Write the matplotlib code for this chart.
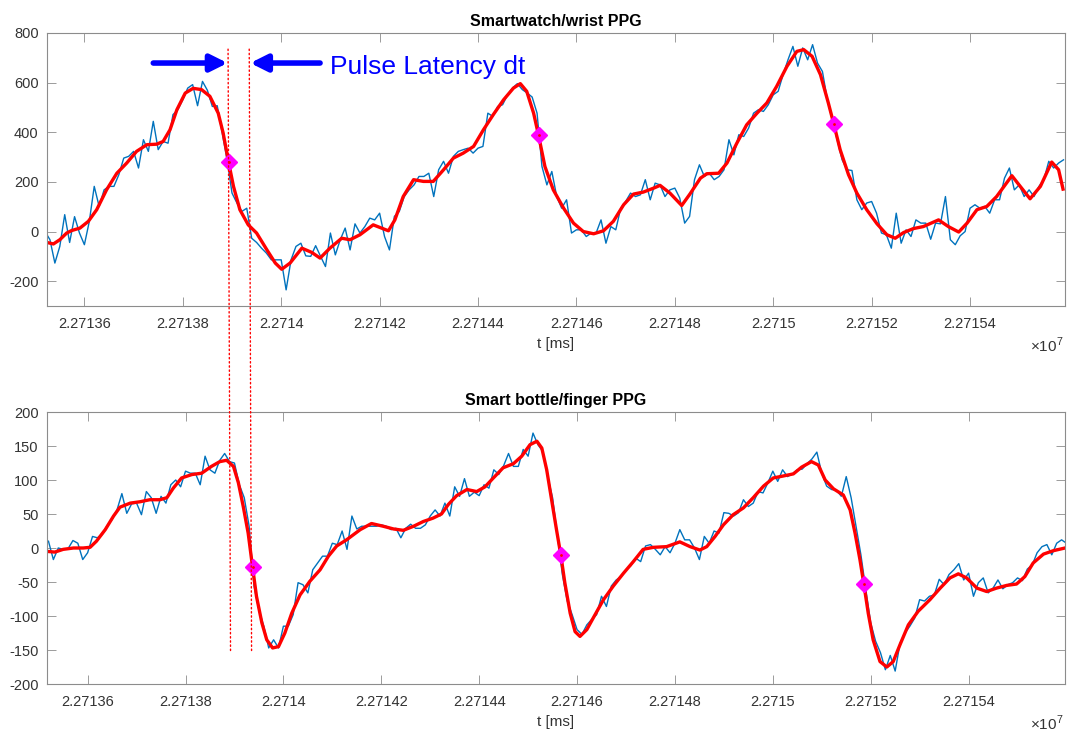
import matplotlib
matplotlib.use('Agg')
import numpy as np
import matplotlib.pyplot as plt
from matplotlib.ticker import MultipleLocator, FuncFormatter
from matplotlib.patches import ConnectionPatch

plt.rcParams['font.family'] = ['Liberation Sans', 'DejaVu Sans']
plt.rcParams['mathtext.fontset'] = 'custom'
plt.rcParams['mathtext.rm'] = 'Liberation Sans'
plt.rcParams['axes.unicode_minus'] = False

# time base [ms], raw PPG sampled every 10 ms from T0
T0 = 22713520
STEP = 10

wrist_raw = [
    0, -33, -127, -60, 68, -44, 60, -6, -53, 41,
    182, 101, 168, 182, 182, 229, 296, 303, 323, 256,
    370, 323, 444, 330, 363, 356, 471, 491, 531, 578,
    592, 507, 605, 569, 504, 507, 397, 289, 155, 115,
    81, 94, -27, -44, -67, -87, -114, -114, -114, -235,
    -114, -60, -47, -98, -100, -57, -100, -141, -6, -94,
    -33, 14, -74, 31, -6, 20, 54, 47, 74, -20,
    -74, 61, 81, 141, 168, 188, 222, 222, 235, 141,
    249, 283, 235, 303, 323, 330, 336, 316, 336, 343,
    477, 464, 504, 511, 551, 578, 596, 572, 558, 542,
    477, 262, 188, 242, 141, 94, 128, -6, 7, 7,
    -20, -6, -6, 47, -47, 20, 7, 94, 121, 155,
    141, 148, 209, 128, 195, 188, 141, 168, 175, 135,
    34, 61, 209, 269, 222, 235, 209, 222, 249, 370,
    309, 390, 383, 417, 477, 491, 484, 511, 551, 565,
    632, 692, 746, 666, 740, 692, 753, 679, 645, 531,
    450, 370, 289, 249, 246, 128, 88, 115, 121, 74,
    -6, -13, -67, 74, -47, 7, -20, 47, 34, 34,
    -31, 34, 31, 141, -33, -53, -17, 0, 94, 108,
    94, 101, 74, 128, 128, 215, 256, 168, 188, 141,
    168, 141, 182, 209, 283, 256, 276, 289,
]

finger_raw = [
    10, -17, 0, -2, -1, 11, 7, -17, -7, 17,
    15, 20, 33, 42, 56, 80, 51, 65, 66, 49,
    83, 74, 51, 76, 66, 93, 100, 90, 113, 110,
    110, 93, 135, 115, 110, 129, 139, 127, 125, 93,
    74, 32, -56, -91, -115, -147, -135, -147, -115, -115,
    -98, -51, -54, -66, -32, -22, -12, -12, 7, 5,
    25, -2, 47, 28, 32, 32, 32, 32, 34, 32,
    27, 29, 15, 29, 35, 29, 29, 34, 47, 56,
    47, 66, 47, 90, 76, 102, 76, 82, 77, 93,
    88, 115, 108, 121, 139, 120, 120, 145, 135, 169,
    152, 142, 105, 74, 17, -39, -78, -98, -120, -127,
    -113, -105, -98, -71, -86, -56, -47, -42, -32, -26,
    -15, -20, 3, 5, -2, -10, 2, -7, 7, 27,
    12, 12, 0, -17, 17, 7, 25, 22, 52, 51,
    47, 52, 71, 61, 66, 83, 81, 96, 113, 98,
    115, 105, 109, 115, 116, 124, 131, 141, 110, 91,
    86, 85, 76, 105, 74, 32, -10, -61, -110, -137,
    -154, -179, -158, -181, -140, -125, -115, -103, -76, -78,
    -71, -69, -46, -54, -39, -32, -23, -47, -37, -71,
    -51, -44, -66, -59, -47, -60, -54, -51, -44, -48,
    -31, -25, -7, 2, 5, -10, 7, 12, 7,
]

# filtered curves, ms after T0
wrist_fit_t = [
    4, 17, 30, 44, 54, 71, 88, 105, 125, 146, 166, 186, 207, 227, 240, 254,
    268, 285, 301, 318, 335, 352, 362, 373, 383, 396, 413, 430, 451, 468,
    481, 498, 522, 542, 559, 579, 603, 620, 640, 667, 698, 711, 728, 749,
    769, 789, 810, 830, 850, 871, 891, 911, 932, 952, 966, 979, 993, 1003,
    1016, 1033, 1054, 1074, 1094, 1115, 1135, 1155, 1176, 1196, 1216, 1237,
    1250, 1270, 1294, 1311, 1332, 1345, 1369, 1386, 1406, 1426, 1447, 1467,
    1487, 1508, 1528, 1542, 1559, 1576, 1592, 1603, 1616, 1633, 1650, 1670,
    1691, 1711, 1728, 1745, 1765, 1785, 1816, 1836, 1857, 1874, 1894, 1914,
    1934, 1965, 1982, 2002, 2023, 2046, 2060, 2069,
]
wrist_fit = [
    -44, -50, -33, -6, 4, 14, 41, 88, 168, 235, 276, 323, 350, 352, 363, 410,
    491, 558, 577, 572, 545, 477, 397, 280, 182, 88, 27, -6, -74, -127,
    -152, -127, -67, -84, -107, -67, -27, -33, -13, 27, 3, 47, 141, 209,
    202, 202, 249, 296, 316, 343, 410, 471, 531, 578, 596, 565, 477, 388,
    262, 168, 94, 34, 0, -9, 3, 41, 108, 151, 159, 175,
    186, 155, 105, 152, 215, 233, 235, 276, 356, 430, 477, 518,
    585, 666, 726, 733, 706, 632, 518, 434, 330, 229, 155, 88,
    31, -13, -27, -4, 12, 20, 47, 20, -2, 34, 88, 101,
    141, 225, 182, 132, 182, 280, 249, 171,
]

finger_fit_t = [
    -3, 13, 30, 51, 71, 85, 98, 116, 133, 146, 167, 187, 207, 228, 242, 255,
    272, 293, 313, 333, 350, 364, 378, 388, 398, 408, 417, 425, 436, 446,
    458, 470, 483, 497, 514, 534, 555, 572, 589, 609, 637, 660, 684, 705,
    725, 746, 766, 786, 803, 817, 834, 855, 875, 892, 909, 929, 950, 967,
    984, 998, 1008, 1018, 1028, 1038, 1047, 1055, 1066, 1076, 1086, 1100,
    1113, 1134, 1154, 1175, 1195, 1215, 1236, 1263, 1290, 1311, 1331, 1345,
    1362, 1379, 1399, 1420, 1440, 1461, 1481, 1502, 1522, 1539, 1559, 1573,
    1587, 1604, 1624, 1638, 1648, 1658, 1666, 1675, 1685, 1699, 1713, 1726,
    1740, 1757, 1777, 1801, 1822, 1842, 1859, 1876, 1897, 1917, 1937, 1958,
    1978, 1995, 2012, 2033, 2053, 2077,
]
finger_fit = [
    -5, -6, -2, 0, 0, 1, 10, 27, 47, 60, 66, 68, 71, 71, 74, 88,
    103, 108, 110, 120, 127, 129, 120, 96, 61, 22, -28, -71, -110, -135,
    -147, -145, -125, -96, -69, -49, -32, -12, 3, 12, 27, 36, 32, 28,
    26, 32, 39, 44, 50, 64, 77, 86, 83, 90, 103, 118, 124, 135,
    152, 157, 147, 115, 71, 27, -11, -51, -96, -123, -130, -120,
    -103, -76, -56, -37, -20, -2, 1, 2, 9, 2, -3, 2,
    17, 34, 49, 59, 74, 91, 103, 106, 109, 119, 127, 122,
    100, 87, 78, 56, 22, -17, -53, -96, -135, -167, -175, -167,
    -142, -113, -93, -76, -59, -44, -38, -44, -59, -64, -59, -55,
    -53, -42, -22, -9, -4, 0,
]

# detected pulse points (ms after T0, value)
wrist_mark_t = [373, 1003, 1603]
wrist_mark = [280, 387, 434]
finger_mark_t = [417, 1047, 1666]
finger_mark = [-28, -11, -53]

# latency guide lines
dt_lines_t = [372, 415]
dt_top, dt_bottom = 735, -154

BLUE = '#0072BD'
FRAME = '#8c8c8c'
TXT = '#333333'

fig = plt.figure(figsize=(10.67, 7.31), dpi=100)
ax1 = fig.add_axes([47/1067, 1 - 306/731, 1018/1067, 273/731])
ax2 = fig.add_axes([47/1067, 1 - 684/731, 1018/1067, 272/731])


def style(ax, title, xlim, ylim, ystep):
    ax.set_xlim(*xlim)
    ax.set_ylim(*ylim)
    ax.xaxis.set_major_locator(MultipleLocator(200))
    ax.yaxis.set_major_locator(MultipleLocator(ystep))
    ax.xaxis.set_major_formatter(FuncFormatter(lambda v, p: '%.6g' % (v / 1e7)))
    ax.tick_params(direction='in', length=6.5, width=0.6, color=FRAME,
                   labelcolor=TXT, labelsize=10.5, top=True, right=True, pad=6)
    ax.tick_params(axis='x', pad=8)
    for s in ax.spines.values():
        s.set_color(FRAME)
        s.set_linewidth(0.8)
    ax.set_title(title, fontsize=11.5, fontweight='bold', color='black', pad=5)
    ax.set_xlabel('t [ms]', fontsize=11, color=TXT, labelpad=4)
    ax.annotate(r'$\times10^{7}$', xy=(1, 0), xycoords='axes fraction',
                xytext=(-1, -28), textcoords='offset points',
                ha='right', va='center', fontsize=11, color=TXT)


t_w = T0 + STEP * np.arange(len(wrist_raw))
t_f = T0 + STEP * np.arange(len(finger_raw))

ax1.plot(t_w, wrist_raw, color=BLUE, lw=1.0)
ax1.plot(T0 + np.array(wrist_fit_t), wrist_fit, color='red', lw=2.4)
ax1.plot(T0 + np.array(wrist_mark_t), wrist_mark, 'D', color='magenta', ms=8.5)
ax1.plot(T0 + np.array(wrist_mark_t), wrist_mark, '.', color='red', ms=2)
style(ax1, 'Smartwatch/wrist PPG', (T0 + 4, T0 + 2073), (-300, 800), 200)

ax2.plot(t_f, finger_raw, color=BLUE, lw=1.0)
ax2.plot(T0 + np.array(finger_fit_t), finger_fit, color='red', lw=2.4)
ax2.plot(T0 + np.array(finger_mark_t), finger_mark, 'D', color='magenta', ms=8.5)
ax2.plot(T0 + np.array(finger_mark_t), finger_mark, '.', color='red', ms=2)
style(ax2, 'Smart bottle/finger PPG', (T0 - 3, T0 + 2077), (-200, 200), 50)

# dotted lines spanning both panels
for tx in dt_lines_t:
    con = ConnectionPatch(xyA=(T0 + tx, dt_top), coordsA=ax1.transData,
                          xyB=(T0 + tx, dt_bottom), coordsB=ax2.transData,
                          color='red', lw=1.0, linestyle=(0, (1, 2)))
    fig.add_artist(con)

# latency arrows and label
arrow_y = 679
head = '-|>,head_length=1.0,head_width=0.5'
ax1.annotate('', xy=(T0 + 371, arrow_y), xytext=(T0 + 220, arrow_y),
             arrowprops=dict(arrowstyle=head, color='blue', lw=4,
                             shrinkA=0, shrinkB=0))
ax1.annotate('', xy=(T0 + 417, arrow_y), xytext=(T0 + 559, arrow_y),
             arrowprops=dict(arrowstyle=head, color='blue', lw=4,
                             shrinkA=0, shrinkB=0))
ax1.text(T0 + 579, 636, 'Pulse Latency dt', color='blue', fontsize=19,
         va='baseline', ha='left')

fig.savefig('out.png', dpi=100)
